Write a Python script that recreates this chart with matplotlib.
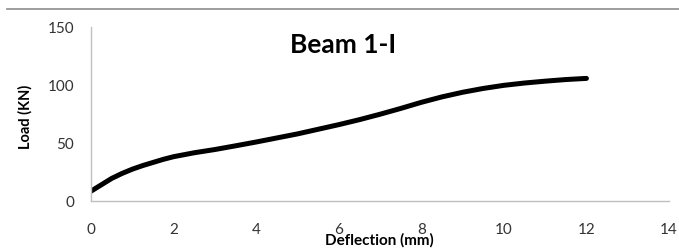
import matplotlib
matplotlib.use("Agg")
import matplotlib.pyplot as plt
from matplotlib.lines import Line2D

plt.rcParams["font.family"] = ["Lato", "DejaVu Sans"]

# deflection (mm) vs load (KN)
deflection = [0, 0.25, 0.5, 0.75, 1, 1.25, 1.5, 1.75, 2, 2.5, 3, 3.5, 4, 4.5,
              5, 5.5, 6, 6.5, 7, 7.5, 8, 8.5, 9, 9.5, 10, 10.5, 11, 11.5, 12]
load = [8.5, 14, 19.5, 23.8, 27.5, 30.6, 33.3, 36, 38.3, 41.7, 44.5, 47.7,
        51, 54.5, 58, 62, 66, 70.3, 75, 80, 85.3, 90, 94, 97.3, 100, 102,
        103.6, 105, 106]

x_ticks = [0, 2, 4, 6, 8, 10, 12, 14]
y_ticks = [0, 50, 100, 150]

fig = plt.figure(figsize=(6.79, 2.49), dpi=100)
ax = fig.add_axes([91 / 679, 48 / 249, 578 / 679, 173.5 / 249])

ax.plot(deflection, load, color="black", lw=3.6, solid_capstyle="round",
        solid_joinstyle="round")

ax.set_xlim(0, 14)
ax.set_ylim(0, 150)
ax.set_xticks(x_ticks)
ax.set_yticks(y_ticks)
ax.tick_params(length=0, labelsize=11, labelcolor="#333333")
ax.tick_params(axis="x", pad=16)
ax.tick_params(axis="y", pad=12)

for side in ["top", "right"]:
    ax.spines[side].set_visible(False)
for side in ["left", "bottom"]:
    ax.spines[side].set_color("#c0c0c0")
    ax.spines[side].set_linewidth(1.0)

ax.text(343 / 679, 204 / 249, "Beam 1-I", transform=fig.transFigure,
        ha="center", va="center", fontsize=19, fontweight="bold")
fig.text(379 / 679, 9 / 249, "Deflection (mm)", ha="center", va="center",
         fontsize=11, fontweight="bold")
fig.text(25 / 679, 132 / 249, "Load (KN)", ha="center", va="center",
         rotation=90, fontsize=10.5, fontweight="bold")

# thin gray rule across the top of the chart area
fig.add_artist(Line2D([7 / 679, 1], [240 / 249, 240 / 249],
                      transform=fig.transFigure, color="#8c8c8c", lw=1.2))

fig.savefig("out.png", dpi=100)
